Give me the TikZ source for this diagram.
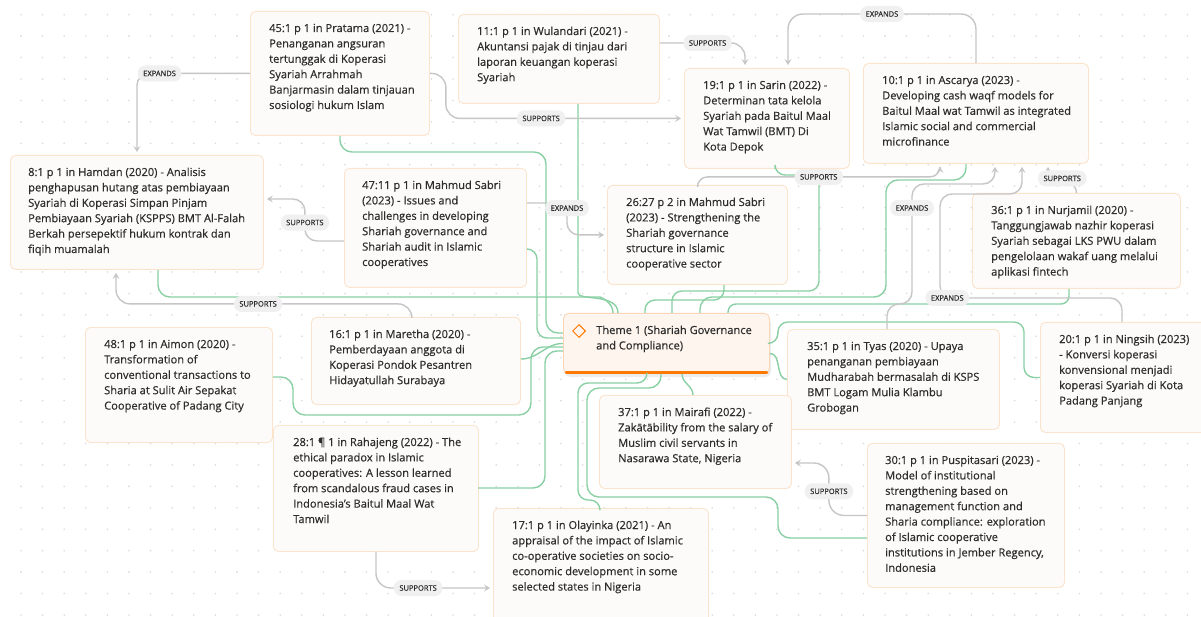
\documentclass[tikz,border=0pt]{standalone}
\usepackage{fontspec}
\setmainfont[RawFeature={embolden=0.5}]{Open Sans}
\usetikzlibrary{positioning}
\usetikzlibrary{calc}
\usetikzlibrary{arrows.meta}
\usetikzlibrary{shapes.geometric}
\definecolor{cardfill}{RGB}{252,251,249}
\definecolor{cardline}{RGB}{252,228,204}
\definecolor{themefill}{RGB}{254,245,238}
\definecolor{themeline}{RGB}{250,214,184}
\definecolor{themeorange}{RGB}{255,120,0}
\definecolor{linkgreen}{RGB}{138,208,164}
\definecolor{relgray}{RGB}{198,198,198}
\definecolor{pillfill}{RGB}{240,240,240}
\definecolor{ink}{RGB}{45,45,45}
\definecolor{griddot}{RGB}{218,218,218}
\newcommand{\cardlines}[1]{\begin{tabular}[t]{@{}l@{}}#1\end{tabular}}
\begin{document}
\begin{tikzpicture}[x=1pt, y=-1pt,
			card/.style={draw=cardline, fill=cardfill, rounded corners=5pt, line width=0.9pt, inner sep=0pt, anchor=north west},
			cardtext/.style={anchor=base west, inner sep=0pt, text=ink, font=\fontsize{11.1}{15.4}\selectfont},
			link/.style={draw=linkgreen, line width=1.4pt, rounded corners=12pt},
			rel/.style={draw=relgray, line width=1.4pt, -{Stealth[length=6pt,width=7pt,inset=2.5pt]}, shorten >=3pt},
			pill/.style={fill=pillfill, rounded corners=7.5pt, minimum height=16pt, inner xsep=5.5pt, inner ysep=0pt, text=ink, font=\fontsize{7.5}{9}\selectfont}]
			\fill[white] (0,0) rectangle (1201,617);
			\useasboundingbox (0,0) rectangle (1201,617);
			% dotted canvas
			\foreach \i in {0,...,55}
				\foreach \j in {0,...,28}
					\fill[griddot] (21+21.6*\i, 14.7+21.44*\j) circle (0.9pt);
			% cards
			\node[card, minimum width=179pt, minimum height=124pt] (pratama) at (250,11) {};
			\node[cardtext] (pratama-t) at ($(pratama.north west)+(19,21)$) {\cardlines{45:1 p 1 in Pratama (2021) -\\Penanganan angsuran\\tertunggak di Koperasi\\Syariah Arrahmah\\Banjarmasin dalam tinjauan\\sosiologi hukum Islam}};
			\node[card, minimum width=201pt, minimum height=89pt] (wulandari) at (458,14) {};
			\node[cardtext] (wulandari-t) at ($(wulandari.north west)+(19,21)$) {\cardlines{11:1 p 1 in Wulandari (2021) -\\Akuntansi pajak di tinjau dari\\laporan keuangan koperasi\\Syariah}};
			\node[card, minimum width=165pt, minimum height=100pt] (sarin) at (684,68) {};
			\node[cardtext] (sarin-t) at ($(sarin.north west)+(19,21)$) {\cardlines{19:1 p 1 in Sarin (2022) -\\Determinan tata kelola\\Syariah pada Baitul Maal\\Wat Tamwil (BMT) Di\\Kota Depok}};
			\node[card, minimum width=225pt, minimum height=100pt] (ascarya) at (863,63) {};
			\node[cardtext] (ascarya-t) at ($(ascarya.north west)+(19,21)$) {\cardlines{10:1 p 1 in Ascarya (2023) -\\Developing cash waqf models for\\Baitul Maal wat Tamwil as integrated\\Islamic social and commercial\\microfinance}};
			\node[card, minimum width=253pt, minimum height=114pt] (hamdan) at (10,155) {};
			\node[cardtext] (hamdan-t) at ($(hamdan.north west)+(18,21)$) {\cardlines{8:1 p 1 in Hamdan (2020) - Analisis\\penghapusan hutang atas pembiayaan\\Syariah di Koperasi Simpan Pinjam\\Pembiayaan Syariah (KSPPS) BMT Al-Falah\\Berkah persepektif hukum kontrak dan\\fiqih muamalah}};
			\node[card, minimum width=182pt, minimum height=119pt] (mahmud47) at (344,168) {};
			\node[cardtext] (mahmud47-t) at ($(mahmud47.north west)+(18,21)$) {\cardlines{47:11 p 1 in Mahmud Sabri\\(2023) - Issues and\\challenges in developing\\Shariah governance and\\Shariah audit in Islamic\\cooperatives}};
			\node[card, minimum width=180pt, minimum height=99pt] (mahmud26) at (607,185) {};
			\node[cardtext] (mahmud26-t) at ($(mahmud26.north west)+(19,21)$) {\cardlines{26:27 p 2 in Mahmud Sabri\\(2023) - Strengthening the\\Shariah governance\\structure in Islamic\\cooperative sector}};
			\node[card, minimum width=208pt, minimum height=95pt] (nurjamil) at (972,193) {};
			\node[cardtext] (nurjamil-t) at ($(nurjamil.north west)+(19,21)$) {\cardlines{36:1 p 1 in Nurjamil (2020) -\\Tanggungjawab nazhir koperasi\\Syariah sebagai LKS PWU dalam\\pengelolaan wakaf uang melalui\\aplikasi fintech}};
			\node[card, minimum width=170pt, minimum height=110pt] (ningsih) at (1040,322) {};
			\node[cardtext] (ningsih-t) at ($(ningsih.north west)+(19,21)$) {\cardlines{20:1 p 1 in Ningsih (2023)\\- Konversi koperasi\\konvensional menjadi\\koperasi Syariah di Kota\\Padang Panjang}};
			\node[card, minimum width=212pt, minimum height=100pt] (tyas) at (787,329) {};
			\node[cardtext] (tyas-t) at ($(tyas.north west)+(20,21)$) {\cardlines{35:1 p 1 in Tyas (2020) - Upaya\\penanganan pembiayaan\\Mudharabah bermasalah di KSPS\\BMT Logam Mulia Klambu\\Grobogan}};
			\node[card, minimum width=192pt, minimum height=93pt] (mairafi) at (599,395) {};
			\node[cardtext] (mairafi-t) at ($(mairafi.north west)+(19,21)$) {\cardlines{37:1 p 1 in Mairafi (2022) -\\Zakātābility from the salary of\\Muslim civil servants in\\Nasarawa State, Nigeria}};
			\node[card, minimum width=209pt, minimum height=87pt] (maretha) at (311,317) {};
			\node[cardtext] (maretha-t) at ($(maretha.north west)+(18,21)$) {\cardlines{16:1 p 1 in Maretha (2020) -\\Pemberdayaan anggota di\\Koperasi Pondok Pesantren\\Hidayatullah Surabaya}};
			\node[card, minimum width=187pt, minimum height=115pt] (aimon) at (85,327) {};
			\node[cardtext] (aimon-t) at ($(aimon.north west)+(19,21)$) {\cardlines{48:1 p 1 in Aimon (2020) -\\Transformation of\\conventional transactions to\\Sharia at Sulit Air Sepakat\\Cooperative of Padang City}};
			\node[card, minimum width=205pt, minimum height=126pt] (rahajeng) at (273,425) {};
			\node[cardtext] (rahajeng-t) at ($(rahajeng.north west)+(20,21)$) {\cardlines{28:1 ¶ 1 in Rahajeng (2022) - The\\ethical paradox in Islamic\\cooperatives: A lesson learned\\from scandalous fraud cases in\\Indonesia's Baitul Maal Wat\\Tamwil}};
			\node[card, minimum width=215pt, minimum height=120pt] (olayinka) at (493,508) {};
			\node[cardtext] (olayinka-t) at ($(olayinka.north west)+(19,21)$) {\cardlines{17:1 p 1 in Olayinka (2021) - An\\appraisal of the impact of Islamic\\co-operative societies on socio-\\economic development in some\\selected states in Nigeria}};
			\node[card, minimum width=197pt, minimum height=144pt] (puspitasari) at (867,443) {};
			\node[cardtext] (puspitasari-t) at ($(puspitasari.north west)+(18,21)$) {\cardlines{30:1 p 1 in Puspitasari (2023) -\\Model of institutional\\strengthening based on\\management function and\\Sharia compliance: exploration\\of Islamic cooperative\\institutions in Jember Regency,\\Indonesia}};
			% theme
			\fill[black!7, rounded corners=5pt] (565,318) rectangle (771,377);
			\node[card, draw=themeline, fill=themefill, minimum width=206pt, minimum height=60pt] (theme) at (563,313) {};
			\draw[themeorange, line width=3pt, line cap=round] ($(theme.south west)+(3,-1.5)$) -- ($(theme.south east)+(-3,-1.5)$);
			\node[diamond, draw=themeorange, line width=1pt, minimum width=13pt, minimum height=13pt, inner sep=0pt] (theme-icon) at ($(theme.north west)+(16,18)$) {};
			\node[cardtext] (theme-t) at ($(theme.north west)+(33,21)$) {\cardlines{Theme 1 (Shariah Governance\\and Compliance)}};
			% theme links
			\path[link] (pratama.south) |- (546,152) |- ($(theme.north west)+(0,20)$);
			\path[link] ($(wulandari.south west)+(120,0)$) -- ++(0,177) to[out=-90,in=90] ($(theme.north west)+(55,0)$);
			\path[link] ($(hamdan.south west)+(148,0)$) |- (588,297) to[out=0,in=90] ($(theme.north west)+(50,0)$);
			\path[link, rounded corners=10pt] ($(mahmud26.south west)+(117,0)$) |- ($(theme.north west)+(82,-13)$) -- ($(theme.north west)+(82,0)$);
			\path[link, rounded corners=10pt] ($(sarin.south west)+(91,0)$) |- (819,175) |- ($(theme.north west)+(109,-22)$) -- ($(theme.north west)+(109,0)$);
			\path[link] ($(ascarya.south west)+(103,0)$) |- (886,180) |- ($(theme.north west)+(137,-16)$) -- ($(theme.north west)+(137,0)$);
			\path[link, rounded corners=8pt] ($(nurjamil.south west)+(97,0)$) |- ($(theme.north west)+(165,-9)$) -- ($(theme.north west)+(165,0)$);
			\path[link, rounded corners=10pt] (theme.east) -- ++(8,0) |- (1024,322) |- (ningsih.west);
			\path[link] ($(theme.east)+(0,10)$) to[out=0,in=180] (tyas.west);
			\path[link] ($(theme.south west)+(119,0)$) to[out=-90,in=90] ($(mairafi.north west)+(94,0)$);
			\path[link, rounded corners=10pt] ($(theme.south west)+(84,0)$) |- (578,383) |- ($(olayinka.north west)+(107,-8)$) -- ($(olayinka.north west)+(107,0)$);
			\path[link] ($(theme.south west)+(98,0)$) |- (587,388) |- (778,497) |- ($(puspitasari.north west)+(0,95)$);
			\path[link, rounded corners=10pt] ($(mahmud47.north east)+(0,81)$) -| ($(theme.north west)+(-26,25)$) -- ($(theme.north west)+(0,25)$);
			\path[link] ($(maretha.north east)+(0,42)$) to[out=0,in=180] ($(theme.west)+(0,0)$);
			\path[link] ($(aimon.north east)+(0,50)$) -| (293,415) -| ($(theme.north west)+(-32,34)$) -- ($(theme.north west)+(0,34)$);
			\path[link] ($(rahajeng.north west)+(205,63)$) -| ($(theme.north west)+(-18,38)$) -- ($(theme.north west)+(0,38)$);
			% relations
			\path[rel, rounded corners=12pt] (pratama.west) -| node[pill, pos=0.4]{EXPANDS} (hamdan.north);
			\path[rel, rounded corners=14pt] ($(wulandari.north east)+(0,29)$) -| node[pill, pos=0.28]{SUPPORTS} ($(sarin.north west)+(61,0)$);
			\path[rel, rounded corners=15pt] (ascarya.north) |- node[pill, pos=0.75]{EXPANDS} ($(sarin.north west)+(104,-54)$) -- ($(sarin.north west)+(104,0)$);
			\path[rel, rounded corners=14pt] (pratama.east) -- ++(16,0) |- node[pill, pos=0.7]{SUPPORTS} (sarin.west);
			\path[rel, rounded corners=12pt] ($(mahmud47.north west)+(0,73)$) -| node[pill, pos=0.72]{SUPPORTS} ($(hamdan.north east)+(41,44)$) -- ($(hamdan.north east)+(0,44)$);
			\path[rel, rounded corners=14pt] ($(maretha.north west)+(101,0)$) |- node[pill, pos=0.76]{SUPPORTS} ($(hamdan.south west)+(106,34)$) -- ($(hamdan.south west)+(106,0)$);
			\path[rel, rounded corners=12pt] ($(mahmud47.north east)+(0,35)$) -| node[pill, pos=0.58]{EXPANDS} ($(mahmud26.west)+(-40,0)$) -- (mahmud26.west);
			\path[rel, rounded corners=10pt] (mahmud26.north) |- node[pill, pos=0.75]{SUPPORTS} ($(ascarya.south west)+(77,13)$) -- ($(ascarya.south west)+(77,0)$);
			\path[rel, rounded corners=12pt] ($(tyas.north west)+(100,0)$) -- ++(0,-25) -| node[pill, pos=0.9]{EXPANDS} (912,184) -| ($(ascarya.south west)+(132,0)$);
			\path[rel, rounded corners=12pt] ($(ningsih.north west)+(82,0)$) |- node[pill, pos=0.98]{EXPANDS} (940,298) |- (1022,194) -- ($(ascarya.south west)+(159,0)$);
			\path[rel] (nurjamil.north) to[out=90,in=-90] node[pill]{SUPPORTS} ($(ascarya.south west)+(185,0)$);
			\path[rel, rounded corners=15pt] (puspitasari.west) -| node[pill, pos=0.73]{SUPPORTS} ($(mairafi.north east)+(37,68)$) -- ($(mairafi.north east)+(0,68)$);
			\path[rel, rounded corners=15pt] (rahajeng.south) |- node[pill, pos=0.68]{SUPPORTS} ($(olayinka.north west)+(0,80)$);
	\end{tikzpicture}
\end{document}
